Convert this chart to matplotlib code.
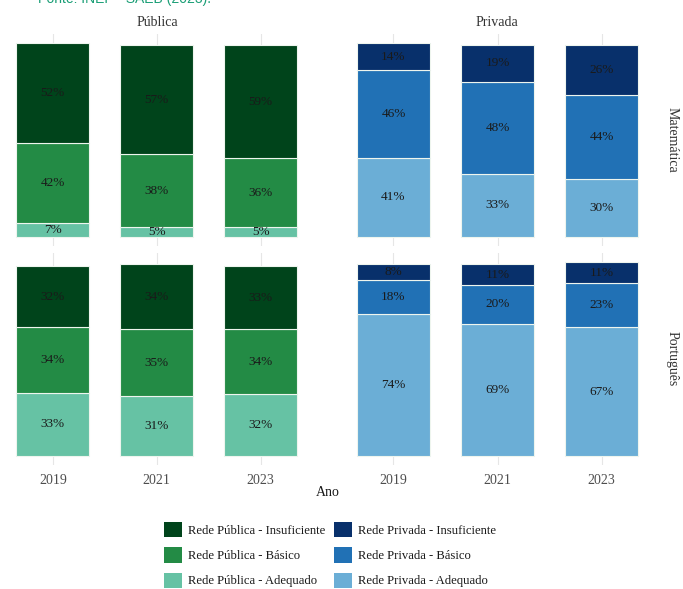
import matplotlib

matplotlib.use("Agg")
import matplotlib.pyplot as plt
from matplotlib.patches import Patch

plt.rcParams["font.family"] = ["Liberation Serif", "DejaVu Serif"]

years = ["2019", "2021", "2023"]
levels = ["Adequado", "Básico", "Insuficiente"]

# percentages per stacked level, bottom to top
pub_mat = {"Adequado": [7, 5, 5], "Básico": [42, 38, 36], "Insuficiente": [52, 57, 59]}
priv_mat = {"Adequado": [41, 33, 30], "Básico": [46, 48, 44], "Insuficiente": [14, 19, 26]}
pub_port = {"Adequado": [33, 31, 32], "Básico": [34, 35, 34], "Insuficiente": [32, 34, 33]}
priv_port = {"Adequado": [74, 69, 67], "Básico": [18, 20, 23], "Insuficiente": [8, 11, 11]}

pub_colors = {"Insuficiente": "#00441b", "Básico": "#238b45", "Adequado": "#66c2a4"}
priv_colors = {"Insuficiente": "#08306b", "Básico": "#2171b5", "Adequado": "#6baed6"}

W, H = 683, 589
fig = plt.figure(figsize=(W / 100, H / 100), dpi=100)


def px_axes(x0, y0, x1, y1):
    return fig.add_axes([x0 / W, 1 - y1 / H, (x1 - x0) / W, (y1 - y0) / H])


panels = [
    (px_axes(-9.5, 33.7, 323, 246.4), pub_mat, pub_colors),
    (px_axes(331, 33.7, 664, 246.4), priv_mat, priv_colors),
    (px_axes(-9.5, 252.7, 323, 465.4), pub_port, pub_colors),
    (px_axes(331, 252.7, 664, 465.4), priv_port, priv_colors),
]

xs = [1, 2, 3]
for i, (ax, data, colors) in enumerate(panels):
    bottom = [0, 0, 0]
    for lvl in levels:
        vals = data[lvl]
        ax.bar(xs, vals, 0.7, bottom=bottom, color=colors[lvl],
               edgecolor="#eef5ee", linewidth=0.8, zorder=2)
        for x, b, v in zip(xs, bottom, vals):
            ax.text(x, b + v / 2, f"{v}%", ha="center", va="center",
                    fontsize=9.5, color="#1a1a1a", zorder=3)
        bottom = [b + v for b, v in zip(bottom, vals)]
    ax.set_xlim(0.4, 3.6)
    ax.set_ylim(-5.05, 106.05)
    ax.set_yticks([])
    ax.set_xticks(xs)
    ax.grid(True, axis="x", color="#e6e6e6", linewidth=0.8, zorder=0)
    ax.tick_params(length=0, labelsize=10, labelcolor="#4d4d4d", pad=6)
    if i < 2:
        ax.set_xticklabels([])
    else:
        ax.set_xticklabels(years)
    for s in ax.spines.values():
        s.set_visible(False)

fig.text(157 / W, 1 - 22 / H, "Pública", ha="center", va="center", fontsize=10, color="#333333")
fig.text(497 / W, 1 - 22 / H, "Privada", ha="center", va="center", fontsize=10, color="#333333")
fig.text(672 / W, 1 - 140 / H, "Matemática", ha="center", va="center", rotation=-90,
         fontsize=10, color="#333333")
fig.text(672 / W, 1 - 359 / H, "Português", ha="center", va="center", rotation=-90,
         fontsize=10, color="#333333")
fig.text(328 / W, 1 - 493 / H, "Ano", ha="center", va="center", fontsize=10, color="#1a1a1a")

# source line at the very top, partly cut by the figure edge
fig.text(38 / W, 1 - 3.5 / H, "Fonte: INEP - SAEB (2023).", ha="left", va="baseline",
         fontsize=10, color="#1a9e76", family=["Liberation Sans", "DejaVu Sans"])

handles = [Patch(facecolor=pub_colors[l], edgecolor="none") for l in levels[::-1]]
handles += [Patch(facecolor=priv_colors[l], edgecolor="none") for l in levels[::-1]]
labels = [f"Rede Pública - {l}" for l in levels[::-1]]
labels += [f"Rede Privada - {l}" for l in levels[::-1]]
fig.legend(handles, labels, ncol=2, loc="center", bbox_to_anchor=(330 / W, 1 - 555 / H),
           frameon=False, fontsize=9.1, handlelength=1.45, handleheight=1.45,
           handletextpad=0.5, columnspacing=0.65, labelspacing=0.8, labelcolor="#1a1a1a")

fig.savefig("out.png", dpi=100)
